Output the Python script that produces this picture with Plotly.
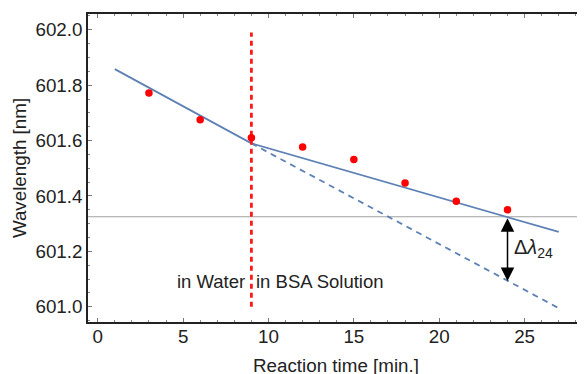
import plotly.graph_objects as go

# Measured data (reaction time in minutes, wavelength in nm)
time_min = [3, 6, 9, 12, 15, 18, 21, 24]
wavelength_nm = [601.772, 601.675, 601.61, 601.577, 601.532, 601.447, 601.381, 601.35]

# Piecewise linear fit and extrapolation of the water-phase trend
fit_x = [1, 9, 27]
fit_y = [601.858, 601.59, 601.27]
extrap_x = [9, 27]
extrap_y = [601.59, 600.995]

# Reference markers
switch_time = 9
switch_y = [601.0, 601.99]
ref_level = 601.325
delta_x = 24
delta_bottom = 601.093

x_ticks = [0, 5, 10, 15, 20, 25]
y_ticks = [601.0, 601.2, 601.4, 601.6, 601.8, 602.0]
y_tick_labels = ["601.0", "601.2", "601.4", "601.6", "601.8", "602.0"]

line_col = "#5E81B5"
font_col = "#222222"
FAM = "Liberation Sans"

fig = go.Figure()
fig.add_trace(go.Scatter(x=[-5, 40], y=[ref_level, ref_level], mode="lines",
                         line=dict(color="#A0A0A0", width=1), hoverinfo="skip"))
fig.add_trace(go.Scatter(x=extrap_x, y=extrap_y, mode="lines",
                         line=dict(color=line_col, width=1.8, dash="6px,5px")))
fig.add_trace(go.Scatter(x=fit_x, y=fit_y, mode="lines",
                         line=dict(color=line_col, width=1.8)))
fig.add_trace(go.Scatter(x=[switch_time, switch_time], y=switch_y, mode="lines",
                         line=dict(color="#FF1A1A", width=2.8, dash="5px,4px")))
fig.add_trace(go.Scatter(x=time_min, y=wavelength_nm, mode="markers",
                         marker=dict(color="#FF0000", size=7.5)))

fig.add_annotation(x=delta_x, y=delta_bottom, ax=delta_x, ay=ref_level,
                   xref="x", yref="y", axref="x", ayref="y", text="",
                   showarrow=True, arrowhead=2, arrowside="end+start",
                   arrowsize=1.8, arrowwidth=1.5, arrowcolor="black")
fig.add_annotation(x=delta_x, y=(ref_level + delta_bottom) / 2, xref="x", yref="y",
                   text="Δ<i>λ</i><sub>24</sub>", showarrow=False, xanchor="left",
                   xshift=4, font=dict(size=20, color=font_col, family=FAM))
fig.add_annotation(x=switch_time, y=601.09, xref="x", yref="y", text="in Water",
                   showarrow=False, xanchor="right", xshift=-4,
                   font=dict(size=18.5, color=font_col, family=FAM))
fig.add_annotation(x=switch_time, y=601.09, xref="x", yref="y", text="in BSA Solution",
                   showarrow=False, xanchor="left", xshift=3,
                   font=dict(size=18.5, color=font_col, family=FAM))

axis_common = dict(showgrid=False, zeroline=False, showline=True, linecolor="#222",
                   linewidth=1.5, mirror="ticks", ticks="inside", ticklen=4,
                   tickcolor="#777", tickwidth=1, automargin=False,
                   tickfont=dict(size=18.8, color=font_col, family=FAM))

# The page body adds an 8px offset, so the figure is sized/margined to compensate.
fig.update_layout(
    width=577, height=374,
    margin=dict(l=80, r=1, t=6, b=60, autoexpand=False),
    paper_bgcolor="white", plot_bgcolor="white",
    showlegend=False,
    font=dict(family=FAM, size=18.5, color=font_col),
    xaxis=dict(range=[-0.57, 28.48], tickvals=x_ticks, ticklabelstandoff=-3,
               minor=dict(dtick=1, ticks="inside", ticklen=2, tickcolor="#888"),
               title=dict(text="Reaction time [min.]", font=dict(size=18.8, color=font_col, family=FAM), standoff=13),
               **axis_common),
    yaxis=dict(range=[600.945, 602.057], tickvals=y_ticks, ticktext=y_tick_labels,
               minor=dict(dtick=0.05, tick0=601.0, ticks="inside", ticklen=2, tickcolor="#888"),
               title=dict(text="Wavelength [nm]", font=dict(size=18.8, color=font_col, family=FAM), standoff=4),
               **axis_common),
)

fig.write_html("out.html")
